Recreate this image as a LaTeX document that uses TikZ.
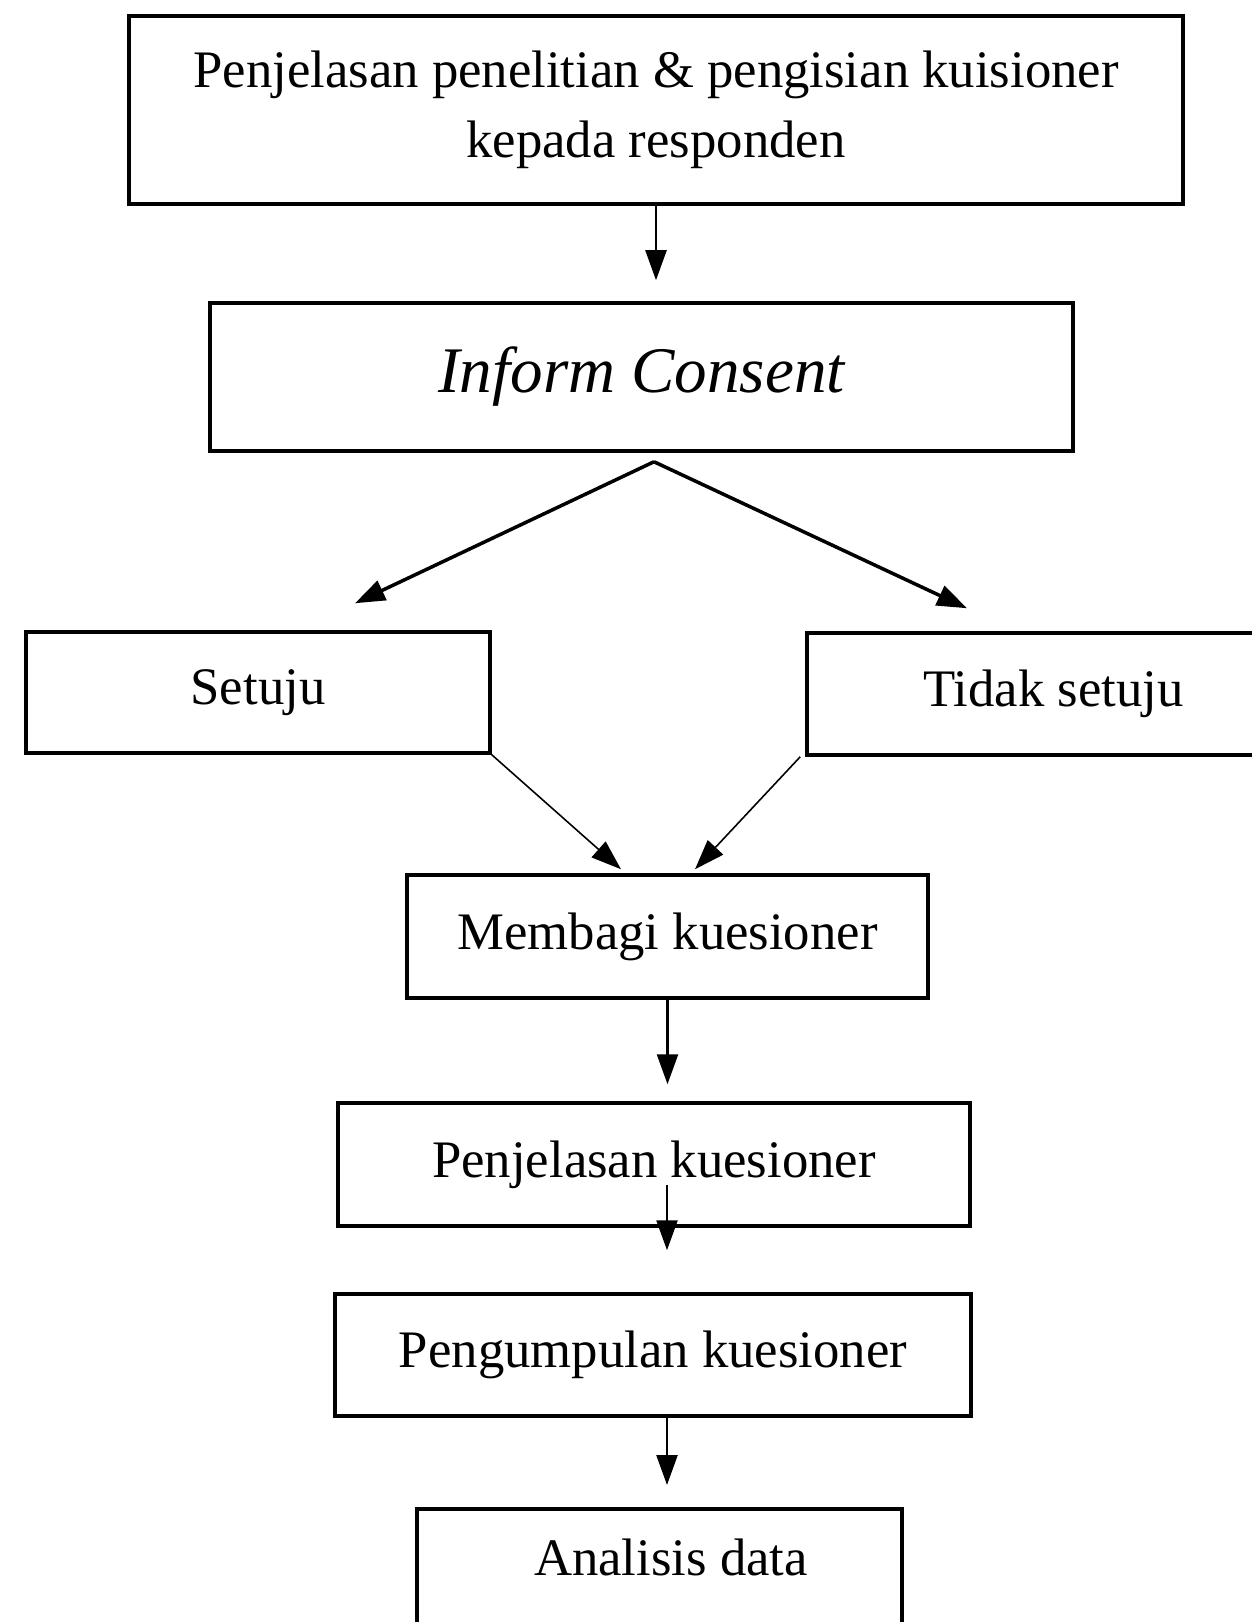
\documentclass[tikz,border=0pt]{standalone}
\usepackage{fontspec}
\setmainfont{Liberation Serif}
\usetikzlibrary{positioning, arrows.meta, calc}

\begin{document}
\begin{tikzpicture}[
    step node/.style={
        draw=black, rectangle, line width=2pt,
        minimum width=#1, inner sep=0pt,
        font=\fontsize{30}{40}\selectfont, align=center
    },
    flow/.style={-{Triangle[length=0.6cm, width=0.42cm]}, line width=1.4pt, draw=black},
    fork/.style={flow, line width=2pt},
    merge/.style={flow, line width=0.9pt}
]

% Batas gambar
\clip (0,0) rectangle (25.04,-32.44);

% ------------------------------------------------------------------------------
% 1. KOTAK TAHAPAN
% ------------------------------------------------------------------------------
\node[step node=21.08cm, minimum height=3.76cm] (penjelasan) at (13.12,-2.2) {Penjelasan penelitian \& pengisian kuisioner\\kepada responden};
\node[step node=17.26cm, minimum height=2.96cm, font=\fontsize{37}{44}\selectfont\itshape] (consent) at (12.83,-7.54) {Inform Consent};
\node[step node=9.28cm, minimum height=2.42cm] (setuju) at (5.16,-13.85) {Setuju};
\node[step node=9.86cm, minimum height=2.44cm] (tidak) at (21.07,-13.88) {Tidak setuju};
\node[step node=10.42cm, minimum height=2.46cm] (membagi) at (13.35,-18.73) {Membagi kuesioner};
\node[step node=12.64cm, minimum height=2.46cm] (penjkues) at (13.08,-23.29) {Penjelasan kuesioner};
\node[step node=12.72cm, minimum height=2.44cm] (pengumpulan) at (13.06,-27.1) {Pengumpulan kuesioner};
\node[step node=9.7cm, minimum height=3.2cm, anchor=north] (analisis) at (13.19,-30.14) {};
\node[font=\fontsize{30}{40}\selectfont] (analisis text) at ($(analisis.north)+(0.23,-1.0)$) {Analisis data};

% ------------------------------------------------------------------------------
% 2. PERCABANGAN (Setuju / Tidak setuju)
% ------------------------------------------------------------------------------
\coordinate (fork top) at ($(consent.south)+(0.25,-0.18)$);
\coordinate (setuju in) at ($(setuju.north)+(1.94,0.54)$);
\coordinate (tidak in) at ($(tidak.north)+(-1.73,0.46)$);

\draw[flow, shorten >=0.42cm] (penjelasan.south) -- (penjelasan.south |- consent.north);
\draw[fork] (fork top) -- (setuju in);
\draw[fork] (fork top) -- (tidak in);

% Gabung ke pembagian kuesioner
\draw[merge] (setuju.south east) -- ($(membagi.north)+(-0.93,0.08)$);
\draw[merge] ([xshift=-0.1cm]tidak.south west) -- ($(membagi.north)+(0.55,0.08)$);

% ------------------------------------------------------------------------------
% 3. ALUR LANJUTAN
% ------------------------------------------------------------------------------
\draw[flow, shorten >=0.34cm] (membagi.south) -- (membagi.south |- penjkues.north);
\draw[flow, shorten >=0.84cm] ([xshift=0.26cm, yshift=0.86cm]penjkues.south) -- ([xshift=0.26cm]penjkues.south |- pengumpulan.north);
\draw[flow, shorten >=0.44cm] ([xshift=0.28cm]pengumpulan.south) -- ([xshift=0.28cm]pengumpulan.south |- analisis.north);

\end{tikzpicture}
\end{document}
